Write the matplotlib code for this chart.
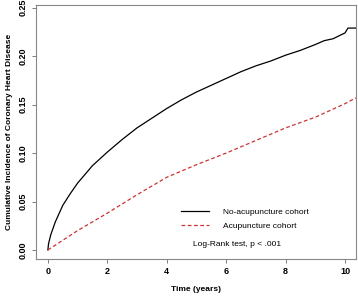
import matplotlib
matplotlib.use("Agg")
import matplotlib.pyplot as plt

plt.rcParams["font.family"] = ["Liberation Sans", "DejaVu Sans"]

# follow-up time (years) and cumulative incidence
time_no = [0, 0.02, 0.05, 0.1, 0.25, 0.5, 0.75, 1, 1.5, 2, 2.5, 3, 3.5, 4, 4.5,
           5, 5.5, 6, 6.5, 7, 7.5, 8, 8.5, 9, 9.3, 9.6, 9.8, 10.0, 10.1, 10.37]
inc_no = [0, 0.006, 0.010, 0.016, 0.029, 0.046, 0.058, 0.069, 0.087, 0.101,
          0.114, 0.126, 0.136, 0.146, 0.155, 0.163, 0.170, 0.177, 0.184, 0.190,
          0.195, 0.201, 0.206, 0.212, 0.216, 0.218, 0.221, 0.224, 0.229, 0.229]

time_acu = [0, 0.5, 1, 2, 3, 4, 5, 6, 7, 8, 9, 10, 10.37]
inc_acu = [0, 0.010, 0.020, 0.038, 0.057, 0.075, 0.088, 0.100, 0.113, 0.126,
           0.137, 0.151, 0.157]

xticks = [0, 2, 4, 6, 8, 10]
yticks = [0.00, 0.05, 0.10, 0.15, 0.20, 0.25]

fig = plt.figure(figsize=(3.58, 2.97), dpi=100)
ax = fig.add_axes([36 / 358, 38 / 297, 320 / 358, 254 / 297])

ax.plot(time_no, inc_no, color="black", lw=0.9, label="No-acupuncture cohort")
ax.plot(time_acu, inc_acu, color="#cc3333", lw=0.9, ls=(0, (3, 2)),
        label="Acupuncture cohort")

ax.set_xlim(-0.4, 10.37)
ax.set_ylim(-0.0093, 0.2528)
ax.set_xticks(xticks)
ax.set_xticklabels([str(t) for t in xticks], fontsize=6.5, fontweight="bold")
ax.set_yticks(yticks)
ax.set_yticklabels([f"{v:.2f}" for v in yticks], fontsize=6.5,
                   fontweight="bold", rotation=90, va="center")
ax.tick_params(direction="out", length=3, width=0.6, color="#666666", pad=3)
for s in ax.spines.values():
    s.set_color("#888888")
    s.set_linewidth(0.8)

ax.set_xlabel("Time (years)", fontsize=6, fontweight="bold", labelpad=7)
ax.set_ylabel("Cumulative Incidence of Coronary Heart Disease", fontsize=6,
              fontweight="bold", labelpad=4)

ax.legend(loc="upper left", bbox_to_anchor=(0.43, 0.23), frameon=False,
          fontsize=6, handlelength=3.4, handletextpad=1.6, labelspacing=0.75)
ax.text(0.49, 0.05, "Log-Rank test, p < .001", transform=ax.transAxes,
        fontsize=6)

fig.savefig("out.png", dpi=100)
